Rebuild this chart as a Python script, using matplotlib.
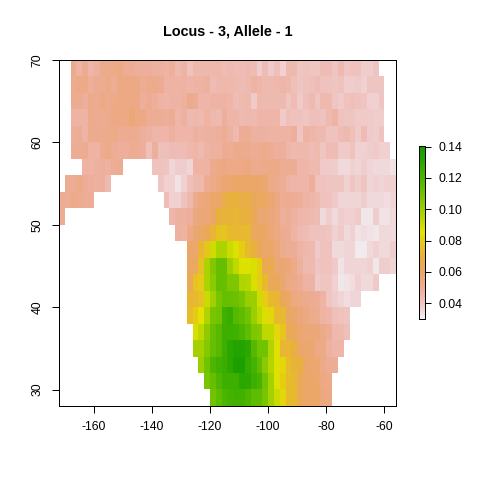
#!/usr/bin/env python3
import matplotlib
matplotlib.use("Agg")
import matplotlib.pyplot as plt
from matplotlib.colors import ListedColormap, hsv_to_rgb
import numpy as np

plt.rcParams['font.family'] = ['Liberation Sans', 'DejaVu Sans']

# raster is 2 degree cells, rows go from lat 70 down to lat 28, values x 1000
lon_min, lon_max = -172, -56
lat_min, lat_max = 28, 70
vmin, vmax = 0.030, 0.1404

row_starts = [2, 2, 2, 2, 2, 2, 4, 1, 0, 0, 20, 22, 22, 22, 22, 22, 23, 23, 24, 25, 26]
row_gaps = {6: (11, 16), 7: (9, 17), 8: (6, 18), 9: (1, 19)}  # hole in the row, col from, col to

row_00 = [52,47,51,46,48,52,52,53,54,50,50,49,49,49,48,48,47,49,44,47,41,45,45,45,45,45,43,44,
          43,43,44,43,38,43,39,42,37,44,44,40,41,40,40,43,43,40,44,40,41,41,38,38,40]
row_01 = [51,53,53,49,51,51,53,50,54,54,54,54,50,52,52,51,47,47,47,47,46,47,47,48,43,45,45,45,
          44,43,44,47,46,44,44,45,46,45,42,40,41,42,43,41,41,40,41,38,38,39,37,40,40,40]
row_02 = [51,51,49,52,51,54,52,53,54,54,54,54,49,51,49,47,46,47,47,48,52,50,46,46,47,47,47,46,
          43,44,45,39,45,44,44,44,44,40,43,39,42,44,40,44,44,40,39,41,42,41,40,37,37,40]
row_03 = [47,47,47,52,51,51,52,54,54,54,57,54,54,50,50,50,49,50,46,48,44,45,44,47,45,44,49,46,
          46,44,45,44,46,46,46,46,39,42,41,41,40,42,42,41,44,47,41,40,40,39,39,39,38,38]
row_04 = [49,50,47,52,52,52,52,53,51,51,51,51,49,48,46,46,46,48,46,46,46,48,47,48,48,49,50,48,
          44,50,50,48,48,48,47,47,47,47,49,40,47,46,44,44,41,41,43,44,42,39,43,39,38,41]
row_05 = [50,50,51,47,47,51,53,50,49,49,50,50,49,42,49,42,42,43,43,43,45,46,44,47,48,48,51,50,
          52,52,52,50,51,52,50,49,49,46,44,45,45,43,44,40,43,43,39,39,41,37,37,38,39,37,37]
row_06 = [47,47,48,49,48,50,51,
          41,41,40,36,38,38,36,47,47,47,52,54,55,53,
          53,54,55,52,52,53,53,53,50,50,50,46,46,44,44,39,39,38,35,35,37,36,38,36,35,35,35,33]
row_07 = [50,50,53,50,49,48,49,44,
          40,37,37,33,37,42,44,45,51,53,55,58,59,
          60,60,60,60,60,58,53,52,50,47,46,46,46,49,41,41,40,40,40,37,40,38,40,36,37,36,37,37]
row_08 = [50,50,53,51,50,50,
          43,37,37,41,45,52,55,56,60,60,68,70,
          70,68,68,63,62,62,58,55,50,51,50,49,47,46,44,41,41,39,36,36,36,36,38,35,35,35,34,36]
row_09 = [50,
          46,48,48,49,55,56,57,61,70,71,71,
          72,70,70,64,58,58,56,54,49,50,48,46,45,44,43,35,38,35,38,37,37,39,32,32,38,33,33,35]
row_10 = [48,47,53,58,60,64,72,77,78,74,73,73,73,62,61,61,57,55,51,50,47,44,43,41,41,
          41,40,37,39,35,37,33,34,33,32,35,35,35]
row_11 = [60,59,72,78,90,97,97,91,87,80,74,70,63,60,60,57,52,50,50,47,45,44,39,
          41,41,35,35,36,36,31,31,35,37,35,35,38]
row_12 = [62,62,76,97,106,113,113,100,93,87,87,88,80,65,66,58,58,57,53,48,44,44,40,
          41,41,39,33,36,36,36,36,37,32,38,38,36]
row_13 = [64,77,79,97,104,113,112,107,107,96,95,88,80,74,63,64,58,54,53,50,47,47,39,
          40,40,37,32,33,34,37,35,35,39]
row_14 = [72,73,76,91,99,108,113,112,111,108,101,100,90,80,73,72,63,62,55,53,52,51,50,
          47,40,38,36,34,36,36]
row_15 = [75,79,85,96,108,110,123,126,117,114,110,100,93,88,82,74,73,61,60,56,55,52,51,
          47,46,42,41,40]
row_16 = [88,93,103,112,117,124,124,123,120,114,107,105,93,93,82,78,64,63,58,57,56,56,53,50,45,44,42]
row_17 = [98,98,105,113,117,124,130,133,133,130,117,110,110,96,87,72,72,70,60,59,58,54,53,48,46,46]
row_18 = [100,110,120,123,125,130,136,136,127,122,114,104,95,87,82,75,71,70,60,59,58,53,50,50]
row_19 = [108,113,119,124,124,124,130,130,124,121,110,98,87,80,75,73,64,60,60,59,54,53]
row_20 = [110,115,120,122,123,123,120,115,114,108,98,91,82,74,74,64,60,60,60,55,54]

rows = [row_00, row_01, row_02, row_03, row_04, row_05, row_06, row_07, row_08, row_09, row_10,
        row_11, row_12, row_13, row_14, row_15, row_16, row_17, row_18, row_19, row_20]

grid = np.full((21, 58), np.nan)
for r, vals in enumerate(rows):
    if r in row_gaps:
        g0, g1 = row_gaps[r]
        cols = [c for c in range(row_starts[r], 58) if c < g0 or c >= g1]
        cols = cols[:len(vals)]
        grid[r, cols] = vals
    else:
        grid[r, row_starts[r]:row_starts[r] + len(vals)] = vals
grid = grid / 1000.0

# rev(terrain.colors(255)) from R
k = 127
h = np.concatenate([np.linspace(4/12, 2/12, k), np.linspace(2/12, 0, 255 - k)])
s = np.concatenate([np.ones(k), np.linspace(1, 0, 255 - k)])
v = np.concatenate([np.linspace(0.65, 0.9, k), np.linspace(0.9, 0.95, 255 - k)])
rgb = hsv_to_rgb(np.column_stack([h, s, v]))[::-1]
# the original png came out of a mac device, colours are a bit shifted
rgb[:, 0] = 0.07 + 0.93 * rgb[:, 0] ** 1.1
rgb[:, 1] = rgb[:, 1] ** 1.15
rgb[:, 2] = rgb[:, 2] ** 1.03
terrain = ListedColormap(rgb)

W, H = 480.0, 480.0
fig = plt.figure(figsize=(4.8, 4.8), dpi=100)
ax = fig.add_axes([59/W, 1 - 406/H, 337/W, 346/H])
ax.imshow(grid, cmap=terrain, vmin=vmin, vmax=vmax, extent=[lon_min, lon_max, lat_min, lat_max],
          aspect='auto', interpolation='nearest')
ax.set_xlim(lon_min, lon_max)
ax.set_ylim(lat_min, lat_max)
ax.set_xticks([-160, -140, -120, -100, -80, -60])
ax.set_yticks([30, 40, 50, 60, 70])
ax.set_xticklabels(['-160', '-140', '-120', '-100', '-80', '-60'])
ax.tick_params(length=5, width=0.72, labelsize=8.7, pad=6)
plt.setp(ax.get_yticklabels(), rotation=90, va='center')
for sp in ax.spines.values():
    sp.set_linewidth(0.72)
fig.text(228/W, 1 - 31/H, 'Locus - 3, Allele - 1', ha='center', va='center',
         fontsize=10.4, fontweight='bold')

# legend bar
cax = fig.add_axes([418.5/W, 1 - 319/H, 7/W, 173/H])
ramp = np.linspace(vmax, vmin, 255).reshape(-1, 1)
cax.imshow(ramp, cmap=terrain, vmin=vmin, vmax=vmax, extent=[0, 1, vmin, vmax],
           aspect='auto', interpolation='nearest')
cax.set_xticks([])
cax.yaxis.tick_right()
cax.set_yticks([0.04, 0.06, 0.08, 0.10, 0.12, 0.14])
cax.set_yticklabels(['0.04', '0.06', '0.08', '0.10', '0.12', '0.14'])
cax.tick_params(length=4.5, width=0.72, labelsize=8.7, pad=5)
for sp in cax.spines.values():
    sp.set_linewidth(0.72)

fig.savefig('out.png', dpi=100)
